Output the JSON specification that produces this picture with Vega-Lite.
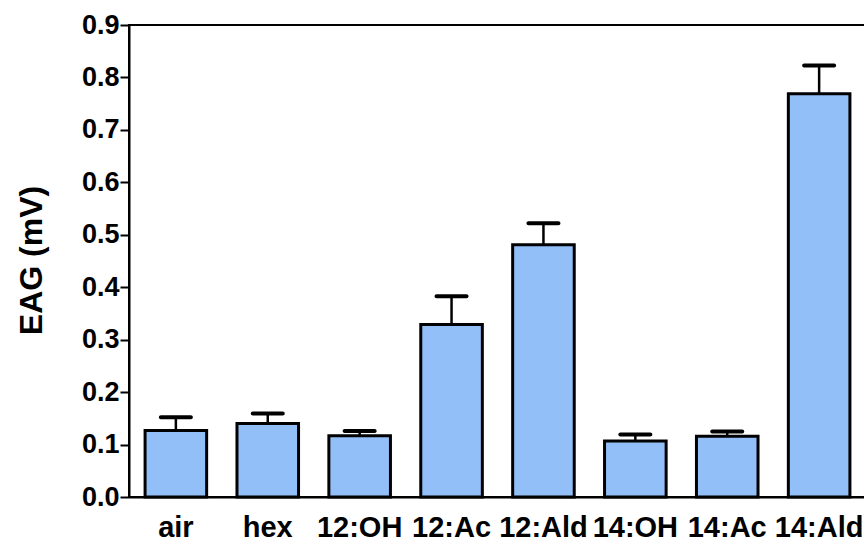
{
  "$schema": "https://vega.github.io/schema/vega-lite/v6.json",
  "autosize": "none",
  "width": 737,
  "height": 472,
  "padding": {"left": 129, "top": 25, "right": 0, "bottom": 45},
  "background": "white",
  "config": {
    "view": {"stroke": "black", "strokeWidth": 2},
    "axis": {"grid": false, "domainColor": "black", "tickColor": "black", "labelColor": "black", "titleColor": "black"}
  },
  "data": {
    "values": [
      {"odorant": "air", "mean": 0.127, "upper": 0.152},
      {"odorant": "hex", "mean": 0.140, "upper": 0.159},
      {"odorant": "12:OH", "mean": 0.117, "upper": 0.126},
      {"odorant": "12:Ac", "mean": 0.329, "upper": 0.383},
      {"odorant": "12:Ald", "mean": 0.481, "upper": 0.522},
      {"odorant": "14:OH", "mean": 0.107, "upper": 0.119},
      {"odorant": "14:Ac", "mean": 0.116, "upper": 0.125},
      {"odorant": "14:Ald", "mean": 0.769, "upper": 0.823}
    ]
  },
  "encoding": {
    "x": {
      "field": "odorant",
      "type": "nominal",
      "sort": null,
      "scale": {"paddingInner": 0.33, "paddingOuter": 0.175},
      "axis": {
        "title": null,
        "labelAngle": 0,
        "ticks": false,
        "tickSize": 0,
        "domainWidth": 2,
        "labelFont": "Liberation Sans",
        "labelFontWeight": "bold",
        "labelFontSize": 29,
        "labelBaseline": "alphabetic",
        "labelPadding": 39
      }
    }
  },
  "layer": [
    {
      "mark": {"type": "bar", "fill": "#93BFF8", "stroke": "black", "strokeWidth": 3},
      "encoding": {
        "y": {
          "field": "mean",
          "type": "quantitative",
          "scale": {"domain": [0, 0.9], "nice": false},
          "axis": {
            "values": [0, 0.1, 0.2, 0.3, 0.4, 0.5, 0.6, 0.7, 0.8, 0.9],
            "format": ".1f",
            "tickSize": 9,
            "tickWidth": 2,
            "domainWidth": 2,
            "labelPadding": 1,
            "labelFont": "Liberation Sans",
            "labelFontWeight": "bold",
            "labelFontSize": 27,
            "title": "EAG (mV)",
            "titleFont": "Liberation Sans",
            "titleFontWeight": "bold",
            "titleFontSize": 32,
            "titleAngle": -90,
            "titleAlign": "center",
            "titleBaseline": "alphabetic",
            "titleX": -88,
            "titleY": 235
          }
        }
      }
    },
    {
      "mark": {"type": "rule", "color": "black", "strokeWidth": 2.5},
      "encoding": {
        "y": {"field": "mean", "type": "quantitative"},
        "y2": {"field": "upper"}
      }
    },
    {
      "mark": {"type": "tick", "color": "black", "size": 34, "thickness": 4, "cornerRadius": 2, "opacity": 1},
      "encoding": {
        "y": {"field": "upper", "type": "quantitative"}
      }
    }
  ]
}
